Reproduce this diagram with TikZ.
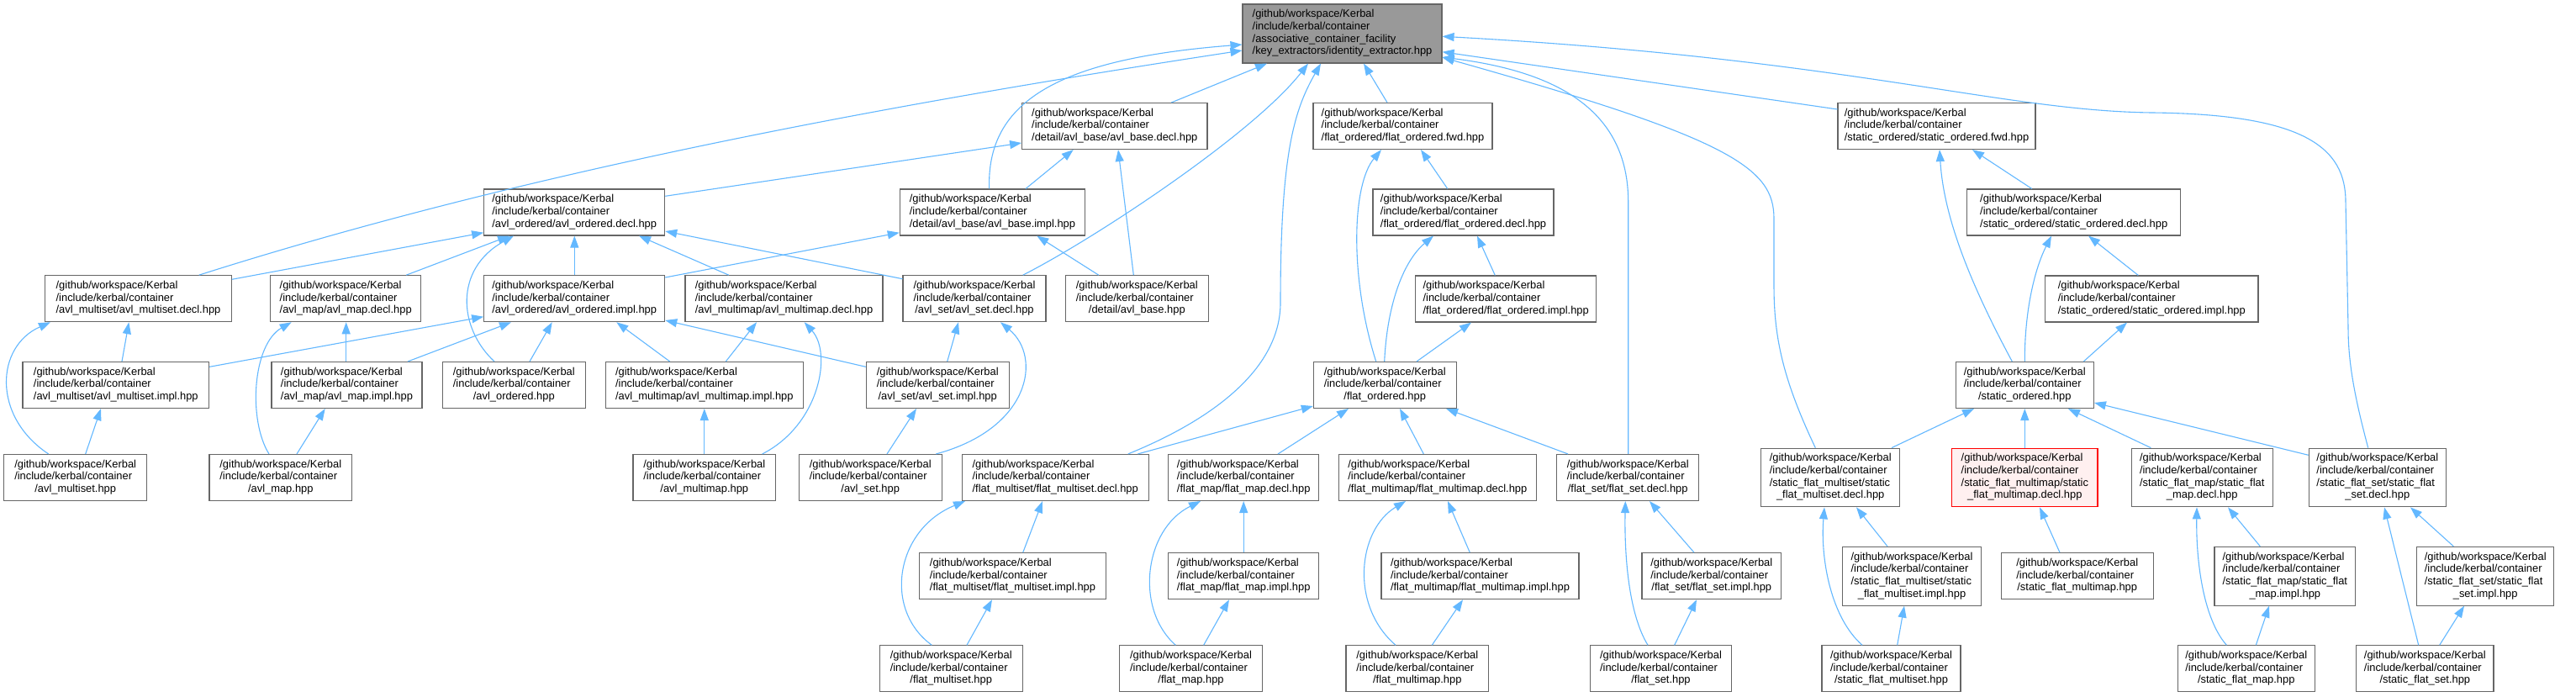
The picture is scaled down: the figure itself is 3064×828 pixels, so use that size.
\documentclass[tikz,border=0pt]{standalone}
\usepackage{fontspec}
\newfontfamily\nodefont{Liberation Sans}
\usetikzlibrary{arrows.meta}
\definecolor{edgec}{HTML}{63B8FF}
\definecolor{bordc}{HTML}{666666}
\definecolor{rootc}{HTML}{999999}
\definecolor{redfill}{HTML}{FFF0F0}
\newcommand\lbl[2]{\begin{tabular}{@{}l@{}}#1\\\multicolumn{1}{@{}c@{}}{#2}\end{tabular}}
\newcommand\kp{/github/workspace/Kerbal\\/include/kerbal/container}
\tikzset{
  file/.style={draw=bordc, fill=white, line width=1.1pt, inner sep=0pt, text=black,
    font={\nodefont\fontsize{12.9}{14.67}\selectfont}, minimum height=55pt},
  tall/.style={minimum height=69.7pt},
  rootbox/.style={file, fill=rootc, minimum height=70pt},
  redbox/.style={file, draw=red, fill=redfill, minimum height=69.7pt},
  edge/.style={draw=edgec, line width=1.1pt, -{Triangle[length=14pt,width=10pt]}},
}
\begin{document}
\begin{tikzpicture}[x=1pt,y=-1pt]
\useasboundingbox (0,0) rectangle (3064,828);
\fill[white] (0,0) rectangle (3064,828);
% row 1
\node[rootbox, minimum width=237pt] (root) at (1596.5,40) {\lbl{\kp\\/associative\_container\_facility}{/key\_extractors/identity\_extractor.hpp}};
% row 2
\node[file, minimum width=220.3pt] (absdecl) at (1325.8,150) {\lbl{\kp}{/detail/avl\_base/avl\_base.decl.hpp}};
\node[file, minimum width=213pt] (fofwd) at (1668.5,150) {\lbl{\kp}{/flat\_ordered/flat\_ordered.fwd.hpp}};
\node[file, minimum width=235pt] (sofwd) at (2303.5,150) {\lbl{\kp}{/static\_ordered/static\_ordered.fwd.hpp}};
% row 3
\node[file, minimum width=215pt] (aodecl) at (683.2,252.5) {\lbl{\kp}{/avl\_ordered/avl\_ordered.decl.hpp}};
\node[file, minimum width=220.4pt] (abimpl) at (1180.5,252.5) {\lbl{\kp}{/detail/avl\_base/avl\_base.impl.hpp}};
\node[file, minimum width=215pt] (fodecl) at (1740.5,252.5) {\lbl{\kp}{/flat\_ordered/flat\_ordered.decl.hpp}};
\node[file, minimum width=254pt] (sodecl) at (2466.7,252.5) {\lbl{\kp}{/static\_ordered/static\_ordered.decl.hpp}};
% row 4
\node[file, minimum width=221.6pt] (amsdecl) at (164.5,355.2) {\lbl{\kp}{/avl\_multiset/avl\_multiset.decl.hpp}};
\node[file, minimum width=179pt] (amdecl) at (411.2,355.2) {\lbl{\kp}{/avl\_map/avl\_map.decl.hpp}};
\node[file, minimum width=215pt] (aoimpl) at (683.2,355.2) {\lbl{\kp}{/avl\_ordered/avl\_ordered.impl.hpp}};
\node[file, minimum width=235pt] (ammdecl) at (932.5,355.2) {\lbl{\kp}{/avl\_multimap/avl\_multimap.decl.hpp}};
\node[file, minimum width=170pt] (asdecl) at (1159,355.2) {\lbl{\kp}{/avl\_set/avl\_set.decl.hpp}};
\node[file, minimum width=170pt] (abhpp) at (1352.3,355.2) {\lbl{\kp}{/detail/avl\_base.hpp}};
\node[file, minimum width=215pt] (foimpl) at (1791.2,355.5) {\lbl{\kp}{/flat\_ordered/flat\_ordered.impl.hpp}};
\node[file, minimum width=253.3pt] (soimpl) at (2559.3,355.5) {\lbl{\kp}{/static\_ordered/static\_ordered.impl.hpp}};
% row 5
\node[file, minimum width=221.7pt] (amsimpl) at (137.8,458) {\lbl{\kp}{/avl\_multiset/avl\_multiset.impl.hpp}};
\node[file, minimum width=179pt] (amimpl) at (412.5,458) {\lbl{\kp}{/avl\_map/avl\_map.impl.hpp}};
\node[file, minimum width=170pt] (aohpp) at (611.3,458) {\lbl{\kp}{/avl\_ordered.hpp}};
\node[file, minimum width=235pt] (ammimpl) at (837.8,458) {\lbl{\kp}{/avl\_multimap/avl\_multimap.impl.hpp}};
\node[file, minimum width=169.7pt] (asimpl) at (1115.2,458) {\lbl{\kp}{/avl\_set/avl\_set.impl.hpp}};
\node[file, minimum width=169.7pt] (fohpp) at (1647.2,458) {\lbl{\kp}{/flat\_ordered.hpp}};
\node[file, minimum width=164.3pt] (sohpp) at (2408.2,458) {\lbl{\kp}{/static\_ordered.hpp}};
% row 6
\node[file, minimum width=170pt] (amshpp) at (89.7,568) {\lbl{\kp}{/avl\_multiset.hpp}};
\node[file, minimum width=169.7pt] (amhpp) at (333.8,568) {\lbl{\kp}{/avl\_map.hpp}};
\node[file, minimum width=169.7pt] (ammhpp) at (837.8,568) {\lbl{\kp}{/avl\_multimap.hpp}};
\node[file, minimum width=169.7pt] (ashpp) at (1035.2,568) {\lbl{\kp}{/avl\_set.hpp}};
\node[file, minimum width=221.7pt] (fmsdecl) at (1255.2,568) {\lbl{\kp}{/flat\_multiset/flat\_multiset.decl.hpp}};
\node[file, minimum width=179pt] (fmdecl) at (1479.2,568) {\lbl{\kp}{/flat\_map/flat\_map.decl.hpp}};
\node[file, minimum width=235pt] (fmmdecl) at (1709.8,568) {\lbl{\kp}{/flat\_multimap/flat\_multimap.decl.hpp}};
\node[file, minimum width=169pt] (fsdecl) at (1936.2,568) {\lbl{\kp}{/flat\_set/flat\_set.decl.hpp}};
\node[file, tall, minimum width=165pt] (sfmsdecl) at (2177.2,568) {\lbl{\kp\\/static\_flat\_multiset/static}{\_flat\_multiset.decl.hpp}};
\node[redbox, minimum width=173.3pt] (sfmmdecl) at (2408.3,568) {\lbl{\kp\\/static\_flat\_multimap/static}{\_flat\_multimap.decl.hpp}};
\node[file, tall, minimum width=168.3pt] (sfmdecl) at (2619.2,568) {\lbl{\kp\\/static\_flat\_map/static\_flat}{\_map.decl.hpp}};
\node[file, tall, minimum width=163pt] (sfsdecl) at (2827.8,568) {\lbl{\kp\\/static\_flat\_set/static\_flat}{\_set.decl.hpp}};
% row 7
\node[file, minimum width=221.6pt] (fmsimpl) at (1204.5,685.2) {\lbl{\kp}{/flat\_multiset/flat\_multiset.impl.hpp}};
\node[file, minimum width=179pt] (fmimpl) at (1479.2,685.2) {\lbl{\kp}{/flat\_map/flat\_map.impl.hpp}};
\node[file, minimum width=235pt] (fmmimpl) at (1760.5,685.2) {\lbl{\kp}{/flat\_multimap/flat\_multimap.impl.hpp}};
\node[file, minimum width=165.7pt] (fsimpl) at (2035.8,685.2) {\lbl{\kp}{/flat\_set/flat\_set.impl.hpp}};
\node[file, tall, minimum width=165.4pt] (sfmsimpl) at (2274,685.2) {\lbl{\kp\\/static\_flat\_multiset/static}{\_flat\_multiset.impl.hpp}};
\node[file, minimum width=180.7pt] (sfmmhpp) at (2470.7,685.2) {\lbl{\kp}{/static\_flat\_multimap.hpp}};
\node[file, tall, minimum width=167.7pt] (sfmimpl) at (2717.8,685.2) {\lbl{\kp\\/static\_flat\_map/static\_flat}{\_map.impl.hpp}};
\node[file, tall, minimum width=163pt] (sfsimpl) at (2956.2,685.2) {\lbl{\kp\\/static\_flat\_set/static\_flat}{\_set.impl.hpp}};
% row 8
\node[file, minimum width=169.7pt] (fmshpp) at (1131.2,795.3) {\lbl{\kp}{/flat\_multiset.hpp}};
\node[file, minimum width=169.6pt] (fmhpp) at (1416.5,795.3) {\lbl{\kp}{/flat\_map.hpp}};
\node[file, minimum width=169.7pt] (fmmhpp) at (1685.8,795.3) {\lbl{\kp}{/flat\_multimap.hpp}};
\node[file, minimum width=167.6pt] (fshpp) at (1975.5,795.3) {\lbl{\kp}{/flat\_set.hpp}};
\node[file, minimum width=165pt] (sfmshpp) at (2249.5,795.3) {\lbl{\kp}{/static\_flat\_multiset.hpp}};
\node[file, minimum width=163.3pt] (sfmhpp) at (2671.7,795.3) {\lbl{\kp}{/static\_flat\_map.hpp}};
\node[file, minimum width=163.3pt] (sfshpp) at (2884.3,795.3) {\lbl{\kp}{/static\_flat\_set.hpp}};

% edges (child -> included parent)
\draw[edge] (amsdecl.north -| 236.7,0) .. controls (636.7,200) and (1078,121) .. (root.west |- 0,60);
\draw[edge] (amsdecl.east |- 0,332.3) -- (aodecl.west |- 0,276.7);
\draw[edge] (amdecl.north -| 483.3,0) -- (aodecl.south -| 606,0);
\draw[edge] (amsimpl.east |- 0,436.3) -- (aoimpl.west |- 0,376.7);
\draw[edge] (amshpp.north -| 57.7,0) .. controls (-10,495) and (-5,412) .. (amsdecl.south -| 60,0);
\draw[edge] (amsimpl.north -| 145,0) -- (amsdecl.south -| 153.3,0);
\draw[edge] (amshpp.north -| 101.7,0) -- (amsimpl.south -| 120,0);
\draw[edge] (amhpp.north -| 320,0) .. controls (295,500) and (300,410) .. (amdecl.south -| 346.7,0);
\draw[edge] (amimpl.north -| 411.7,0) -- (amdecl.south -| 411.7,0);
\draw[edge] (amhpp.north -| 353,0) -- (amimpl.south -| 386.7,0);
\draw[edge] (amimpl.north -| 485,0) -- (aoimpl.south -| 608,0);
\draw[edge] (aohpp.north -| 630,0) -- (aoimpl.south -| 656.7,0);
\draw[edge] (aohpp.north -| 588,0) .. controls (545,390) and (540,320) .. (aodecl.south -| 611,0);
\draw[edge] (aoimpl.north -| 683.3,0) -- (aodecl.south -| 683.3,0);
\draw[edge] (ammdecl.north -| 866.7,0) -- (aodecl.south -| 760,0);
\draw[edge] (asdecl.west |- 0,331.7) -- (aodecl.east |- 0,275);
\draw[edge] (aodecl.east |- 0,233.3) -- (absdecl.west |- 0,170);
\draw[edge] (aoimpl.east |- 0,330) -- (abimpl.west |- 0,276.7);
\draw[edge] (ammimpl.north -| 796.7,0) -- (aoimpl.south -| 733.3,0);
\draw[edge] (asimpl.west |- 0,436.3) -- (aoimpl.east |- 0,381);
\draw[edge] (ammimpl.north -| 863.3,0) -- (ammdecl.south -| 900,0);
\draw[edge] (ammhpp.north -| 906.7,0) .. controls (975,505) and (990,420) .. (ammdecl.south -| 956.7,0);
\draw[edge] (ammhpp.north -| 837.8,0) -- (ammimpl.south -| 837.8,0);
\draw[edge] (absdecl.north -| 1393.3,0) -- (root.south -| 1507,0);
\draw[edge] (abimpl.north -| 1176.7,0) .. controls (1173,120) and (1260,70) .. (root.west |- 0,53);
\draw[edge] (abimpl.north -| 1220,0) -- (absdecl.south -| 1276.7,0);
\draw[edge] (abhpp.north -| 1348.3,0) -- (absdecl.south -| 1330,0);
\draw[edge] (abhpp.north -| 1306.7,0) -- (abimpl.south -| 1233.3,0);
\draw[edge] (asdecl.north -| 1216.7,0) .. controls (1300,285) and (1490,160) .. (root.south -| 1556,0);
\draw[edge] (asimpl.north -| 1126.7,0) -- (asdecl.south -| 1140,0);
\draw[edge] (ashpp.north -| 1113.3,0) .. controls (1225,510) and (1240,425) .. (asdecl.south -| 1190,0);
\draw[edge] (ashpp.north -| 1055,0) -- (asimpl.south -| 1090,0);
\draw[edge] (fmsdecl.north -| 1341.7,0) .. controls (1440,500) and (1523,440) .. (1523,360) .. controls (1523,180) and (1540,130) .. (root.south -| 1571,0);
\draw[edge] (fmsdecl.north -| 1353.3,0) -- (fohpp.west |- 0,483);
\draw[edge] (fmshpp.north -| 1108.3,0) .. controls (1050,725) and (1065,630) .. (fmsdecl.south -| 1148,0);
\draw[edge] (fmsimpl.north -| 1216.7,0) -- (fmsdecl.south -| 1240,0);
\draw[edge] (fmshpp.north -| 1150,0) -- (fmsimpl.south -| 1180,0);
\draw[edge] (fmdecl.north -| 1520,0) -- (fohpp.south -| 1604,0);
\draw[edge] (fmhpp.north -| 1398.3,0) .. controls (1350,725) and (1360,630) .. (fmdecl.south -| 1428,0);
\draw[edge] (fmimpl.north -| 1479.2,0) -- (fmdecl.south -| 1479.2,0);
\draw[edge] (fmhpp.north -| 1431.7,0) -- (fmimpl.south -| 1462,0);
\draw[edge] (fmmdecl.north -| 1693.3,0) -- (fohpp.south -| 1665,0);
\draw[edge] (fmmhpp.north -| 1660,0) .. controls (1605,720) and (1615,630) .. (fmmdecl.south -| 1672,0);
\draw[edge] (fmmimpl.north -| 1748.3,0) -- (fmmdecl.south -| 1722,0);
\draw[edge] (fmmhpp.north -| 1703.3,0) -- (fmmimpl.south -| 1740,0);
\draw[edge] (fsdecl.north -| 1865,0) -- (fohpp.south -| 1720,0);
\draw[edge] (fshpp.north -| 1960,0) .. controls (1937,730) and (1932,660) .. (fsdecl.south -| 1933.3,0);
\draw[edge] (fsimpl.north -| 2015,0) -- (fsdecl.south -| 1962,0);
\draw[edge] (fshpp.north -| 1991.7,0) -- (fsimpl.south -| 2018,0);
\draw[edge] (fsdecl.north -| 1936.7,0) -- (1936.7,240) .. controls (1936.7,130) and (1850,85) .. (root.east |- 0,68);
\draw[edge] (fofwd.north -| 1650,0) -- (root.south -| 1622,0);
\draw[edge] (fodecl.north -| 1721.7,0) -- (fofwd.south -| 1690,0);
\draw[edge] (fohpp.north -| 1636.7,0) .. controls (1605,330) and (1608,220) .. (fofwd.south -| 1643,0);
\draw[edge] (fohpp.north -| 1646.7,0) .. controls (1650,360) and (1670,310) .. (fodecl.south -| 1705,0);
\draw[edge] (foimpl.north -| 1778.3,0) -- (fodecl.south -| 1757,0);
\draw[edge] (fohpp.north -| 1685,0) -- (foimpl.south -| 1750,0);
\draw[edge] (sofwd.west |- 0,130) -- (root.east |- 0,61.7);
\draw[edge] (sfsdecl.north -| 2816.7,0) .. controls (2800,470) and (2793,430) .. (2793,390) -- (2790,240) .. controls (2790,175) and (2740,136) .. (2560,134) .. controls (2380,132) and (2200,70) .. (root.east |- 0,43.3);
\draw[edge] (sohpp.north -| 2393.3,0) .. controls (2345,340) and (2312,260) .. (sofwd.south -| 2307,0);
\draw[edge] (sodecl.north -| 2416.7,0) -- (sofwd.south -| 2346,0);
\draw[edge] (sohpp.north -| 2408.3,0) .. controls (2408,370) and (2420,320) .. (sodecl.south -| 2440,0);
\draw[edge] (soimpl.north -| 2543.3,0) -- (sodecl.south -| 2484,0);
\draw[edge] (sohpp.north -| 2478.3,0) -- (soimpl.south -| 2530,0);
\draw[edge] (sfmsdecl.north -| 2159.3,0) .. controls (2120,450) and (2110,400) .. (2110,340) -- (2110,260) .. controls (2110,200) and (2060,165) .. (root.east |- 0,68.3);
\draw[edge] (sfmsdecl.north -| 2250,0) -- (sohpp.south -| 2348,0);
\draw[edge] (sfmmdecl.north -| 2408.3,0) -- (sohpp.south -| 2408.3,0);
\draw[edge] (sfmdecl.north -| 2558.3,0) -- (sohpp.south -| 2460,0);
\draw[edge] (sfsdecl.west |- 0,541.3) -- (sohpp.east |- 0,479);
\draw[edge] (sfmshpp.north -| 2215,0) .. controls (2178,735) and (2165,665) .. (sfmsdecl.south -| 2170,0);
\draw[edge] (sfmsimpl.north -| 2245,0) -- (sfmsdecl.south -| 2208,0);
\draw[edge] (sfmshpp.north -| 2256.7,0) -- (sfmsimpl.south -| 2265,0);
\draw[edge] (sfmmhpp.north -| 2450,0) -- (sfmmdecl.south -| 2426,0);
\draw[edge] (sfmhpp.north -| 2648.3,0) .. controls (2620,735) and (2612,665) .. (sfmdecl.south -| 2613,0);
\draw[edge] (sfmimpl.north -| 2688.3,0) -- (sfmdecl.south -| 2650,0);
\draw[edge] (sfmhpp.north -| 2683.3,0) -- (sfmimpl.south -| 2699,0);
\draw[edge] (sfshpp.north -| 2876.7,0) -- (sfsdecl.south -| 2836,0);
\draw[edge] (sfsimpl.north -| 2918.3,0) -- (sfsdecl.south -| 2867,0);
\draw[edge] (sfshpp.north -| 2901.7,0) -- (sfsimpl.south -| 2931,0);
\end{tikzpicture}
\end{document}
